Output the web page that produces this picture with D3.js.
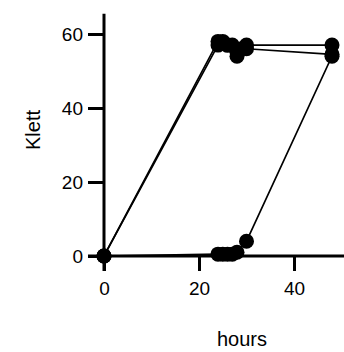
<!DOCTYPE html>
<html lang="en">
<head>
<meta charset="utf-8">
<title>klett</title>
<script src="https://cdn.jsdelivr.net/npm/d3@7"></script>
<style>
  body { margin: 0; background: #fff; }
  text { font-family: "Liberation Sans", Arial, sans-serif; }
</style>
</head>
<body>
<div id="chart"></div>
<script>
// hours and Klett readings for each culture
var hoursA = [0, 24, 25, 26, 27, 28, 29, 30, 48]
var klettA = [0, 58, 58, 57, 57, 55, 56, 56, 54.5]
var hoursB = [0, 24, 26, 28, 30, 48]
var klettB = [0, 57, 57, 54, 57, 57]
var hoursC = [0, 24, 25, 26, 27, 28, 30, 48]
var klettC = [0, 0.5, 0.5, 0.5, 0.5, 1, 4, 54]
var xTicks = [0, 20, 40]
var yTicks = [0, 20, 40, 60]

var w = 344, h = 352
var svg = d3.select("#chart").append("svg").attr("width", w).attr("height", h)

var x = d3.scaleLinear().domain([0, 50]).range([104, 341.5])
var y = d3.scaleLinear().domain([0, 60]).range([256, 34])

function pairs(xs, ys) {
  return xs.map(function(d, i) { return {x: d, y: ys[i]} })
}
var series = [pairs(hoursA, klettA), pairs(hoursB, klettB), pairs(hoursC, klettC)]

// axes
var xAxis = svg.append("g").attr("transform", "translate(0," + y(0) + ")")
  .call(d3.axisBottom(x).tickValues(xTicks).tickSize(15).tickPadding(11))
var yAxis = svg.append("g").attr("transform", "translate(" + x(0) + ",0)")
  .call(d3.axisLeft(y).tickValues(yTicks).tickSize(16).tickPadding(5))

xAxis.select(".domain").attr("d", "M" + (x(0) - 16) + ",0H" + w)
yAxis.select(".domain").attr("d", "M0," + (y(0) + 15) + "V" + y(65.5))
svg.selectAll(".domain, .tick line").attr("stroke", "#000").attr("stroke-width", 3)
svg.selectAll(".tick text").attr("font-size", 19).attr("fill", "#000")

var line = d3.line().x(function(d) { return x(d.x) }).y(function(d) { return y(d.y) })

series.forEach(function(s) {
  svg.append("path").datum(s).attr("d", line)
    .attr("fill", "none").attr("stroke", "#000").attr("stroke-width", 1.6)
})
series.forEach(function(s) {
  svg.selectAll(null).data(s).enter().append("circle")
    .attr("cx", function(d) { return x(d.x) })
    .attr("cy", function(d) { return y(d.y) })
    .attr("r", 7.5).attr("fill", "#000")
})

svg.append("text").text("hours").attr("x", 242).attr("y", 346)
  .attr("text-anchor", "middle").attr("font-size", 20)
svg.append("text").text("Klett")
  .attr("transform", "translate(40,130) rotate(-90)")
  .attr("text-anchor", "middle").attr("font-size", 20)
</script>
</body>
</html>
